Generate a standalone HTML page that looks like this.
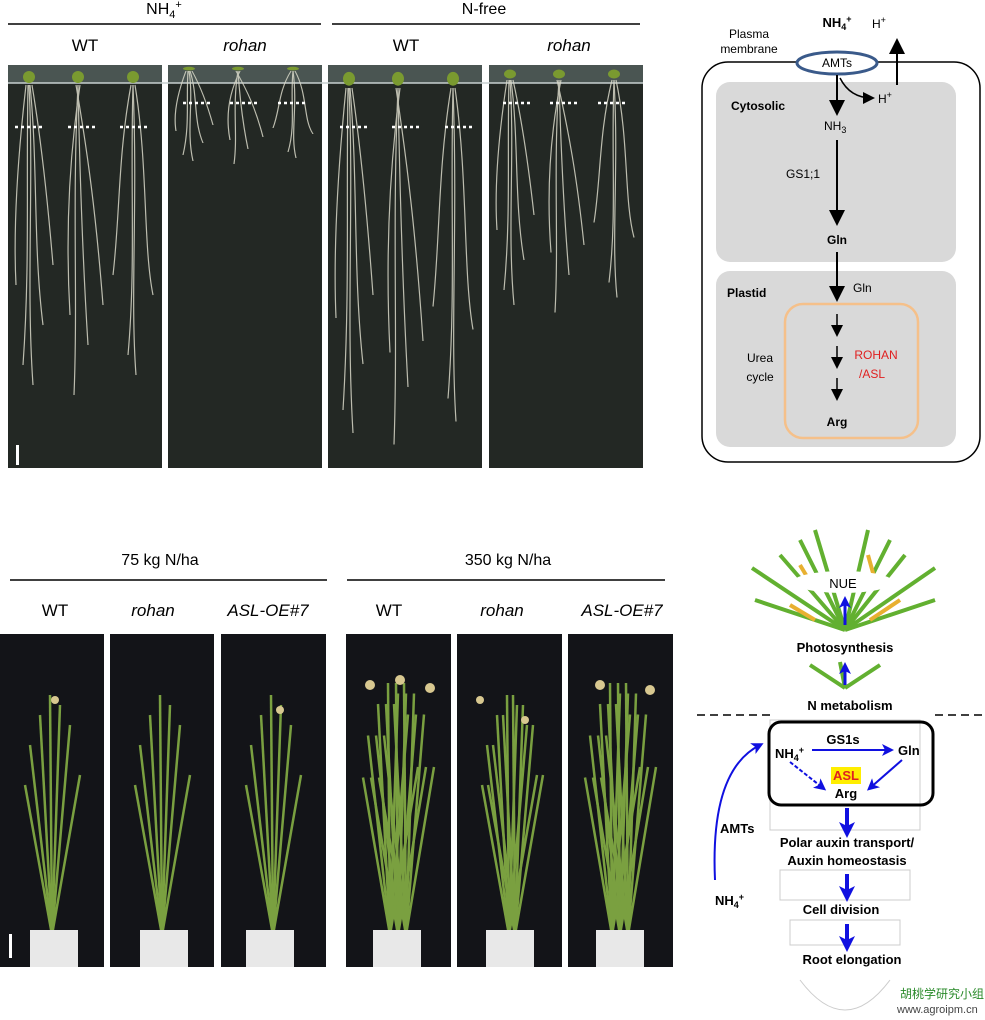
<!DOCTYPE html>
<html><head><style>body{margin:0;background:#fff}svg{display:block}text{font-family:"Liberation Sans",sans-serif}</style></head>
<body>
<svg width="985" height="1020" viewBox="0 0 985 1020" xmlns="http://www.w3.org/2000/svg">
<defs>
<marker id="ak" markerWidth="8" markerHeight="8" refX="6" refY="4" orient="auto"><path d="M0,0 L8,4 L0,8 Z" fill="#000"/></marker>
<marker id="ab" markerWidth="6" markerHeight="6" refX="4" refY="3" orient="auto"><path d="M0,0 L6,3 L0,6 L1.5,3 Z" fill="#1010e0"/></marker>
<marker id="ab2" markerWidth="4" markerHeight="4" refX="2" refY="2" orient="auto"><path d="M0,0 L4,2 L0,4 L1,2 Z" fill="#1010e0"/></marker>
<g id="roots"><g stroke="#d8d8c8" stroke-width="1.2" fill="none" opacity="0.85">
<path d="M20,20 C18,120 22,200 15,300"/><path d="M22,20 C30,100 25,180 35,260"/><path d="M18,20 C10,90 5,160 8,220"/><path d="M24,20 C34,80 40,140 45,200"/><path d="M21,20 C26,120 18,220 25,320"/>
<path d="M70,20 C72,120 75,200 80,280"/><path d="M72,20 C60,100 58,180 62,250"/><path d="M68,20 C80,90 88,150 95,240"/><path d="M70,20 C64,140 70,230 66,330"/>
<path d="M125,20 C122,120 128,200 120,290"/><path d="M127,20 C140,100 135,180 145,230"/><path d="M123,20 C110,90 112,150 105,210"/><path d="M125,20 C130,140 122,230 128,310"/></g>
<g fill="#7a9a30"><circle cx="21" cy="12" r="6"/><circle cx="70" cy="12" r="6"/><circle cx="125" cy="12" r="6"/></g></g>
<g id="plant" fill="none" stroke="#7aa040" stroke-width="2.5">
<path d="M52,300 L40,80"/><path d="M52,300 L60,70"/><path d="M52,300 L25,150"/><path d="M52,300 L80,140"/><path d="M52,300 L50,60"/><path d="M52,300 L70,90"/><path d="M52,300 L30,110"/>
</g>
</defs>
<text x="164" y="14" font-size="16" text-anchor="middle">NH<tspan font-size="11" dy="4">4</tspan><tspan font-size="11" dy="-10">+</tspan></text>
<line x1="8" y1="24" x2="321" y2="24" stroke="#000" stroke-width="1.5"/>
<text x="484" y="14" font-size="16" text-anchor="middle">N-free</text>
<line x1="332" y1="24" x2="640" y2="24" stroke="#000" stroke-width="1.5"/>
<g font-size="17" text-anchor="middle"><text x="85" y="51">WT</text><text x="245" y="51" font-style="italic">rohan</text><text x="406" y="51">WT</text><text x="569" y="51" font-style="italic">rohan</text></g>
<g fill="#232824"><rect x="8" y="65" width="154" height="403"/><rect x="168" y="65" width="154" height="403"/><rect x="328" y="65" width="154" height="403"/><rect x="489" y="65" width="154" height="403"/></g>
<g fill="#4a5552"><rect x="8" y="65" width="154" height="18"/><rect x="168" y="65" width="154" height="18"/><rect x="328" y="65" width="154" height="18"/><rect x="489" y="65" width="154" height="18"/></g>
<g stroke="#c8d0d0" stroke-width="1.5"><line x1="8" y1="83" x2="643" y2="83"/></g>
<use href="#roots" x="8" y="65"/>
<g transform="translate(168,65) scale(1,0.3)"><use href="#roots"/></g>
<g transform="translate(328,65) scale(1,1.15)"><use href="#roots"/></g>
<g transform="translate(489,65) scale(1,0.75)"><use href="#roots"/></g>
<g stroke="#fff" stroke-width="2.5" stroke-dasharray="3,3"><line x1="15" y1="127" x2="45" y2="127"/><line x1="68" y1="127" x2="98" y2="127"/><line x1="120" y1="127" x2="150" y2="127"/>
<line x1="183" y1="103" x2="213" y2="103"/><line x1="230" y1="103" x2="260" y2="103"/><line x1="278" y1="103" x2="308" y2="103"/>
<line x1="340" y1="127" x2="370" y2="127"/><line x1="392" y1="127" x2="422" y2="127"/><line x1="445" y1="127" x2="475" y2="127"/>
<line x1="503" y1="103" x2="533" y2="103"/><line x1="550" y1="103" x2="580" y2="103"/><line x1="598" y1="103" x2="628" y2="103"/></g>
<rect x="16" y="445" width="3" height="20" fill="#fff"/>
<rect x="702" y="62" width="278" height="400" rx="26" fill="#fff" stroke="#000" stroke-width="1.5"/>
<rect x="716" y="82" width="240" height="180" rx="14" fill="#d9d9d9"/>
<rect x="716" y="271" width="240" height="176" rx="14" fill="#d9d9d9"/>
<rect x="785" y="304" width="133" height="134" rx="18" fill="#d9d9d9" stroke="#f5c08a" stroke-width="2.5"/>
<ellipse cx="837" cy="63" rx="40" ry="11" fill="#fff" stroke="#3a5a8a" stroke-width="3"/>
<text x="837" y="67" font-size="12" text-anchor="middle">AMTs</text>
<text x="749" y="38" font-size="12" text-anchor="middle">Plasma</text><text x="749" y="53" font-size="12" text-anchor="middle">membrane</text>
<text x="837" y="27" font-size="13" font-weight="bold" text-anchor="middle">NH<tspan font-size="9" dy="3">4</tspan><tspan font-size="9" dy="-8">+</tspan></text>
<text x="872" y="28" font-size="12">H<tspan font-size="9" dy="-5">+</tspan></text>
<line x1="897" y1="85" x2="897" y2="42" stroke="#000" stroke-width="2" marker-end="url(#ak)"/>
<path d="M840,78 Q850,98 872,98" fill="none" stroke="#000" stroke-width="1.5" marker-end="url(#ak)"/>
<text x="878" y="103" font-size="12">H<tspan font-size="9" dy="-5">+</tspan></text>
<line x1="837" y1="75" x2="837" y2="112" stroke="#000" stroke-width="2" marker-end="url(#ak)"/>
<text x="731" y="110" font-size="12" font-weight="bold">Cytosolic</text>
<text x="824" y="130" font-size="12">NH<tspan font-size="9" dy="3">3</tspan></text>
<line x1="837" y1="140" x2="837" y2="222" stroke="#000" stroke-width="2" marker-end="url(#ak)"/>
<text x="786" y="178" font-size="12">GS1;1</text>
<text x="837" y="244" font-size="12" font-weight="bold" text-anchor="middle">Gln</text>
<line x1="837" y1="252" x2="837" y2="298" stroke="#000" stroke-width="2" marker-end="url(#ak)"/>
<text x="853" y="292" font-size="12">Gln</text>
<text x="727" y="297" font-size="12" font-weight="bold">Plastid</text>
<line x1="837" y1="314" x2="837" y2="334" stroke="#000" stroke-width="1.5" marker-end="url(#ak)"/>
<line x1="837" y1="346" x2="837" y2="366" stroke="#000" stroke-width="1.5" marker-end="url(#ak)"/>
<line x1="837" y1="378" x2="837" y2="398" stroke="#000" stroke-width="1.5" marker-end="url(#ak)"/>
<text x="760" y="362" font-size="12" text-anchor="middle">Urea</text><text x="760" y="381" font-size="12" text-anchor="middle">cycle</text>
<text x="876" y="359" font-size="12" fill="#e02020" text-anchor="middle">ROHAN</text><text x="872" y="378" font-size="12" fill="#e02020" text-anchor="middle">/ASL</text>
<text x="837" y="426" font-size="12" font-weight="bold" text-anchor="middle">Arg</text>
<text x="160" y="565" font-size="16" text-anchor="middle">75 kg N/ha</text>
<line x1="10" y1="580" x2="327" y2="580" stroke="#000" stroke-width="1.5"/>
<text x="508" y="565" font-size="16" text-anchor="middle">350 kg N/ha</text>
<line x1="347" y1="580" x2="665" y2="580" stroke="#000" stroke-width="1.5"/>
<g font-size="17" text-anchor="middle"><text x="55" y="616">WT</text><text x="153" y="616" font-style="italic">rohan</text><text x="268" y="616" font-style="italic">ASL-OE#7</text>
<text x="389" y="616">WT</text><text x="502" y="616" font-style="italic">rohan</text><text x="622" y="616" font-style="italic">ASL-OE#7</text></g>
<g fill="#131418"><rect x="0" y="634" width="104" height="333"/><rect x="110" y="634" width="104" height="333"/><rect x="221" y="634" width="105" height="333"/>
<rect x="346" y="634" width="105" height="333"/><rect x="457" y="634" width="105" height="333"/><rect x="568" y="634" width="105" height="333"/></g>
<g transform="translate(0,635)"><use href="#plant"/></g>
<g transform="translate(110,635)"><use href="#plant"/></g>
<g transform="translate(221,635)"><use href="#plant"/></g>
<g transform="translate(346,620) scale(1,1.05)"><use href="#plant"/><use href="#plant" x="-8"/><use href="#plant" x="8"/></g>
<g transform="translate(457,635)"><use href="#plant"/><use href="#plant" x="6"/></g>
<g transform="translate(568,620) scale(1,1.05)"><use href="#plant"/><use href="#plant" x="-8"/><use href="#plant" x="8"/></g>
<g fill="#d8c890"><circle cx="370" cy="685" r="5"/><circle cx="430" cy="688" r="5"/><circle cx="400" cy="680" r="5"/><circle cx="480" cy="700" r="4"/><circle cx="525" cy="720" r="4"/><circle cx="600" cy="685" r="5"/><circle cx="650" cy="690" r="5"/><circle cx="280" cy="710" r="4"/><circle cx="55" cy="700" r="4"/></g>
<g fill="#e8e8e8"><rect x="30" y="930" width="48" height="37"/><rect x="140" y="930" width="48" height="37"/><rect x="246" y="930" width="48" height="37"/>
<rect x="373" y="930" width="48" height="37"/><rect x="486" y="930" width="48" height="37"/><rect x="596" y="930" width="48" height="37"/></g>
<rect x="9" y="934" width="3" height="24" fill="#fff"/>
<g fill="none" stroke="#62b030" stroke-width="4">
<path d="M845,630 L780,555"/><path d="M845,630 L905,555"/><path d="M845,630 L752,568"/><path d="M845,630 L935,568"/><path d="M845,630 L815,530"/><path d="M845,630 L868,530"/><path d="M845,630 L755,600"/><path d="M845,630 L935,600"/><path d="M845,630 L800,540"/><path d="M845,630 L890,540"/>
<path d="M845,688 L810,665"/><path d="M845,688 L880,665"/><path d="M845,688 L840,662"/>
</g>
<g stroke="#e8b030" stroke-width="4"><line x1="800" y1="565" x2="815" y2="590"/><line x1="868" y1="555" x2="875" y2="580"/><line x1="900" y1="600" x2="870" y2="620"/><line x1="790" y1="605" x2="815" y2="620"/></g>
<ellipse cx="843" cy="582" rx="50" ry="11" fill="#fff"/>
<text x="843" y="588" font-size="13" text-anchor="middle">NUE</text>
<line x1="845" y1="625" x2="845" y2="602" stroke="#1010e0" stroke-width="3" marker-end="url(#ab2)"/>
<rect x="785" y="637" width="120" height="18" fill="#fff"/>
<text x="845" y="652" font-size="13" font-weight="bold" text-anchor="middle">Photosynthesis</text>
<line x1="845" y1="685" x2="845" y2="668" stroke="#1010e0" stroke-width="3" marker-end="url(#ab2)"/>
<text x="850" y="710" font-size="13" font-weight="bold" text-anchor="middle">N metabolism</text>
<line x1="697" y1="715" x2="770" y2="715" stroke="#000" stroke-width="1.5" stroke-dasharray="8,5"/>
<line x1="935" y1="715" x2="985" y2="715" stroke="#000" stroke-width="1.5" stroke-dasharray="8,5"/>
<g stroke="#ccc" fill="none"><rect x="770" y="720" width="150" height="110"/><rect x="780" y="870" width="130" height="30"/><rect x="790" y="920" width="110" height="25"/><path d="M800,980 Q845,1040 890,980"/></g>
<rect x="769" y="722" width="164" height="83" rx="12" fill="none" stroke="#000" stroke-width="3"/>
<text x="843" y="744" font-size="13" font-weight="bold" text-anchor="middle">GS1s</text>
<text x="775" y="758" font-size="13" font-weight="bold">NH<tspan font-size="9" dy="3">4</tspan><tspan font-size="9" dy="-8">+</tspan></text>
<line x1="812" y1="750" x2="890" y2="750" stroke="#1010e0" stroke-width="2" marker-end="url(#ab)"/>
<text x="898" y="755" font-size="13" font-weight="bold">Gln</text>
<line x1="790" y1="762" x2="823" y2="788" stroke="#1010e0" stroke-width="2" stroke-dasharray="4,2" marker-end="url(#ab)"/>
<line x1="902" y1="760" x2="870" y2="788" stroke="#1010e0" stroke-width="2" marker-end="url(#ab)"/>
<rect x="831" y="767" width="30" height="17" fill="#ffee00"/>
<text x="846" y="780" font-size="13" font-weight="bold" fill="#e02020" text-anchor="middle">ASL</text>
<text x="846" y="798" font-size="13" font-weight="bold" text-anchor="middle">Arg</text>
<path d="M715,880 Q710,770 760,745" fill="none" stroke="#1010e0" stroke-width="2" marker-end="url(#ab)"/>
<text x="720" y="833" font-size="13" font-weight="bold">AMTs</text>
<text x="715" y="905" font-size="13" font-weight="bold">NH<tspan font-size="9" dy="3">4</tspan><tspan font-size="9" dy="-8">+</tspan></text>
<line x1="847" y1="808" x2="847" y2="830" stroke="#1010e0" stroke-width="4" marker-end="url(#ab2)"/>
<text x="847" y="847" font-size="13" font-weight="bold" text-anchor="middle">Polar auxin transport/</text>
<text x="847" y="865" font-size="13" font-weight="bold" text-anchor="middle">Auxin  homeostasis</text>
<line x1="847" y1="874" x2="847" y2="894" stroke="#1010e0" stroke-width="4" marker-end="url(#ab2)"/>
<text x="841" y="914" font-size="13" font-weight="bold" text-anchor="middle">Cell division</text>
<line x1="847" y1="924" x2="847" y2="944" stroke="#1010e0" stroke-width="4" marker-end="url(#ab2)"/>
<text x="852" y="964" font-size="13" font-weight="bold" text-anchor="middle">Root elongation</text>
<text x="900" y="998" font-size="12" fill="#2a8a2a">胡桃学研究小组</text>
<text x="897" y="1013" font-size="11" fill="#444">www.agroipm.cn</text>
</svg>
</body></html>
